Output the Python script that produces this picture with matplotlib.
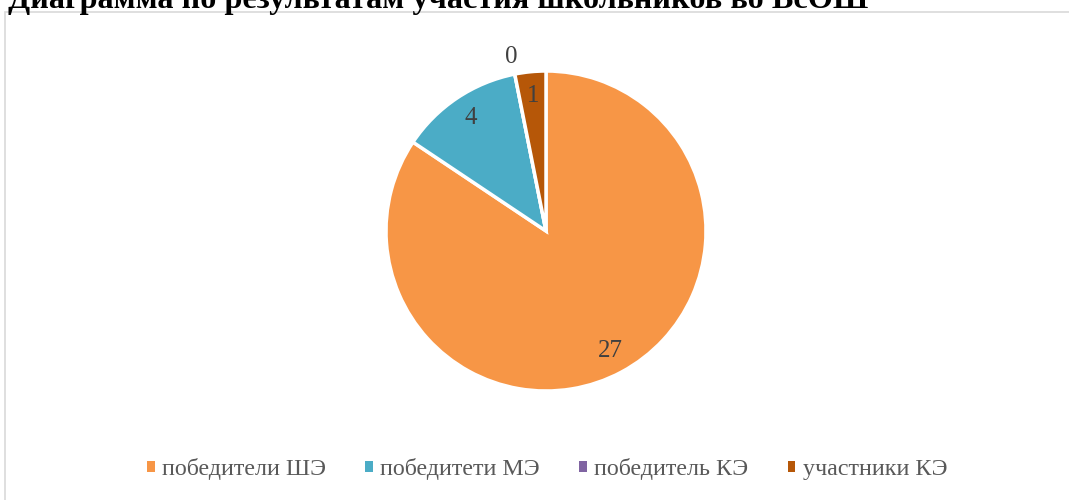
import numpy as np
import matplotlib.pyplot as plt
from matplotlib.patches import Patch, Rectangle

plt.rcParams['font.family'] = ['Liberation Serif', 'DejaVu Serif']

title = 'Диаграмма по результатам участия школьников во ВсОШ'
categories = ['победители ШЭ', 'победитети МЭ', 'победитель КЭ', 'участники КЭ']
values = [27, 4, 0, 1]
colors = ['#F79646', '#4BACC6', '#8064A2', '#B65708']

W, H = 1069, 500
fig = plt.figure(figsize=(W / 100, H / 100), dpi=100)

# рамка области диаграммы
fig.patches.append(Rectangle((5 / W, -0.1), 1.2, 1.1 - 12 / H, transform=fig.transFigure,
                             fill=False, edgecolor='#D9D9D9', lw=1.2))

fig.text(8 / W, 1 - 8 / H, title, fontsize=23.2, fontweight='bold', va='baseline', ha='left')

cx, cy, r = 546, 231, 160
ax = fig.add_axes([(cx - r) / W, (H - cy - r) / H, 2 * r / W, 2 * r / H])
wedges, _ = ax.pie(values, colors=colors, startangle=90, counterclock=False, radius=1,
                   wedgeprops=dict(edgecolor='white', linewidth=2.5))
ax.set_xlim(-1, 1)
ax.set_ylim(-1, 1)
ax.axis('off')

# подписи данных
for w, v in zip(wedges, values):
    ang = np.deg2rad((w.theta1 + w.theta2) / 2)
    d = 0.85 if v > 0 else 1.11
    ax.text(d * np.cos(ang), d * np.sin(ang), str(v), ha='center', va='center',
            fontsize=18, color='#404040', clip_on=False)

handles = [Patch(facecolor=c, label=l) for c, l in zip(colors, categories)]
fig.legend(handles=handles, loc='center', bbox_to_anchor=(547 / W, 1 - 469 / H), ncol=4,
           frameon=False, fontsize=17.3, handlelength=0.33, handleheight=0.33,
           handletextpad=0.3, columnspacing=1.63, labelcolor='#595959')

fig.savefig('out.png', dpi=100)
